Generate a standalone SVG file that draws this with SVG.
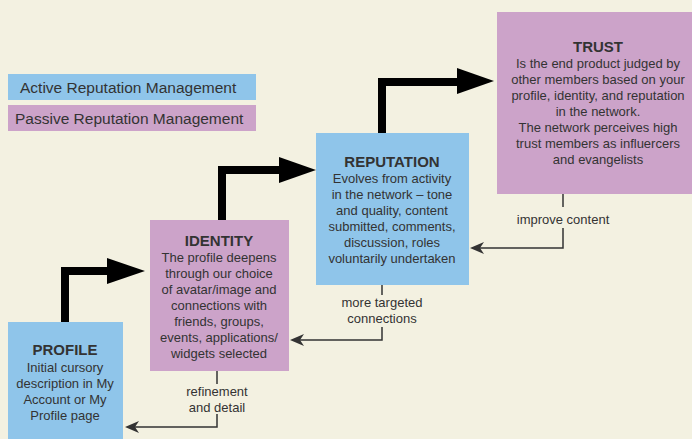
<svg xmlns="http://www.w3.org/2000/svg" width="692" height="439" viewBox="0 0 692 439">
  <defs>
    <style>
      .bg { fill: #f3f1e1; }
      .active { fill: #8fc5ea; }
      .passive { fill: #cca3c9; }
      text { font-family: "Liberation Sans", Arial, sans-serif; fill: #333333; }
      .title { font-size: 15px; font-weight: bold; text-anchor: middle; }
      .body { font-size: 13px; text-anchor: middle; }
      .legend { font-size: 15.5px; }
      .lbl { font-size: 13px; text-anchor: middle; }
      .step { fill: none; stroke: #000000; stroke-width: 8; }
      .head { fill: #000000; }
      .fb { fill: none; stroke: #333333; stroke-width: 1.5; }
      .barb { fill: #333333; }
    </style>
  </defs>

  <rect class="bg" x="0" y="0" width="692" height="439"/>

  <!-- legend -->
  <g id="legend">
    <rect class="active" x="8" y="74" width="248" height="26"/>
    <text class="legend" x="20" y="93">Active Reputation Management</text>
    <rect class="passive" x="8" y="105" width="248" height="26"/>
    <text class="legend" x="15" y="124">Passive Reputation Management</text>
  </g>

  <!-- connectors -->
  <g id="connectors">
    <!-- progression steps -->
    <path class="step" d="M65,322 V271 H110"/>
    <polygon class="head" points="107,258 145,271 107,284"/>
    <path class="step" d="M222,220 V170 H282"/>
    <polygon class="head" points="279,157 316,170 279,183"/>
    <path class="step" d="M382,133 V82 H460"/>
    <polygon class="head" points="457,68 494,81 457,94"/>

    <!-- feedback loops -->
    <path class="fb" d="M563,194 V207"/>
    <path class="fb" d="M563,228 V248 H478"/>
    <path class="barb" d="M470,248 L484,242 L480,248 L484,254 Z"/>
    <text class="lbl" x="563" y="224">improve content</text>

    <path class="fb" d="M382,285 V295"/>
    <path class="fb" d="M382,327 V340 H298"/>
    <path class="barb" d="M290,340 L304,334 L300,340 L304,346 Z"/>
    <text class="lbl" x="382" y="307">more targeted</text>
    <text class="lbl" x="382" y="323">connections</text>

    <path class="fb" d="M217,371 V384"/>
    <path class="fb" d="M217,414 V427 H133"/>
    <path class="barb" d="M125,427 L139,421 L135,427 L139,433 Z"/>
    <text class="lbl" x="217" y="396">refinement</text>
    <text class="lbl" x="217" y="412">and detail</text>
  </g>

  <g id="profile">
    <rect class="active" x="8" y="322" width="115" height="117"/>
    <text class="title" x="65" y="355">PROFILE</text>
    <text class="body" x="65" y="372">Initial cursory</text>
    <text class="body" x="65" y="388">description in My</text>
    <text class="body" x="65" y="404">Account or My</text>
    <text class="body" x="65" y="420">Profile page</text>
  </g>

  <g id="identity">
    <rect class="passive" x="150" y="220" width="139" height="151"/>
    <text class="title" x="219" y="246">IDENTITY</text>
    <text class="body" x="219" y="262">The profile deepens</text>
    <text class="body" x="219" y="278">through our choice</text>
    <text class="body" x="219" y="294">of avatar/image and</text>
    <text class="body" x="219" y="310">connections with</text>
    <text class="body" x="219" y="326">friends, groups,</text>
    <text class="body" x="219" y="342">events, applications/</text>
    <text class="body" x="219" y="358">widgets selected</text>
  </g>

  <g id="reputation">
    <rect class="active" x="316" y="133" width="153" height="152"/>
    <text class="title" x="392" y="167">REPUTATION</text>
    <text class="body" x="392" y="183">Evolves from activity</text>
    <text class="body" x="392" y="199">in the network – tone</text>
    <text class="body" x="392" y="215">and quality, content</text>
    <text class="body" x="392" y="231">submitted, comments,</text>
    <text class="body" x="392" y="247">discussion, roles</text>
    <text class="body" x="392" y="263">voluntarily undertaken</text>
  </g>

  <g id="trust">
    <rect class="passive" x="497" y="12" width="195" height="182"/>
    <text class="title" x="598" y="52">TRUST</text>
    <text class="body" x="598" y="68">Is the end product judged by</text>
    <text class="body" x="598" y="84">other members based on your</text>
    <text class="body" x="598" y="100">profile, identity, and reputation</text>
    <text class="body" x="598" y="116">in the network.</text>
    <text class="body" x="598" y="132">The network perceives high</text>
    <text class="body" x="598" y="148">trust members as influercers</text>
    <text class="body" x="598" y="164">and evangelists</text>
  </g>
</svg>
